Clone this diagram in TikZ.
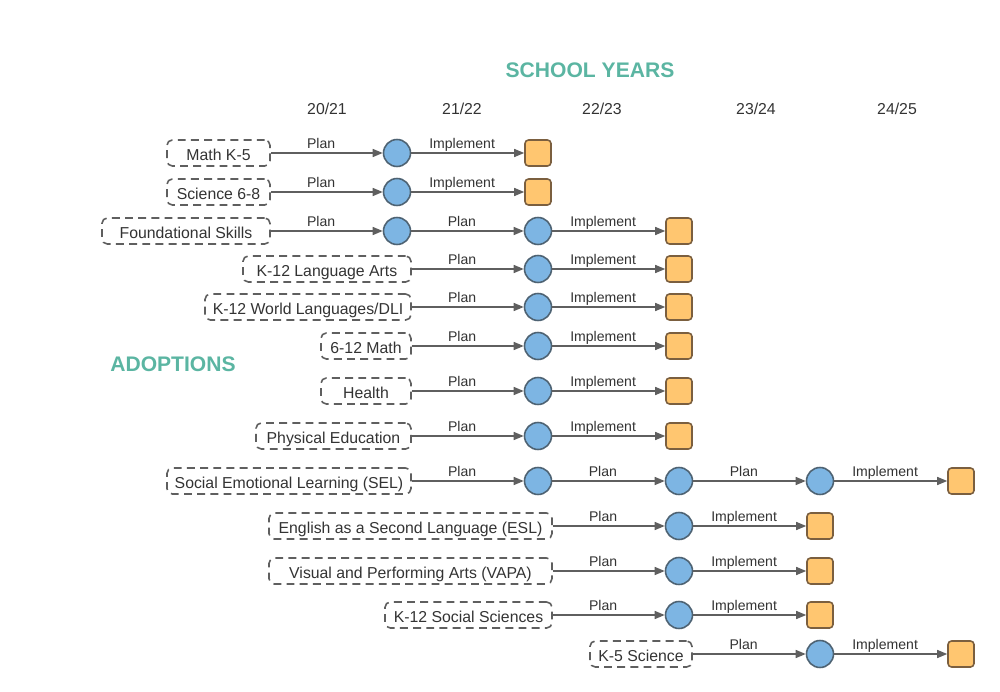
\documentclass[tikz,border=0pt]{standalone}
\usepackage{fontspec}
\setmainfont{Liberation Sans}
\usetikzlibrary{arrows.meta}

\definecolor{headteal}{HTML}{5BB5A2}
\definecolor{linegray}{HTML}{5F5F5F}
\definecolor{txtgray}{HTML}{333333}
\definecolor{planfill}{HTML}{7DB5E3}
\definecolor{planline}{HTML}{4E6373}
\definecolor{donefill}{HTML}{FFC670}
\definecolor{doneline}{HTML}{7B5F3F}

\begin{document}
\begin{tikzpicture}[x=0.02cm, y=-0.02cm,
    adopt/.style={draw=linegray, dash pattern=on 4.5pt off 3pt, line width=0.9pt,
        rounded corners=3pt, minimum height=0.52cm, inner sep=0pt, text=txtgray,
        text height=8.7pt, text depth=0pt, font=\fontsize{9}{10}\selectfont},
    plan/.style={circle, draw=planline, fill=planfill, line width=0.9pt,
        minimum size=0.54cm, inner sep=0pt},
    done/.style={rectangle, draw=doneline, fill=donefill, line width=0.9pt,
        rounded corners=2pt, minimum size=0.52cm, inner sep=0pt},
    flow/.style={draw=linegray, line width=0.8pt, -{Triangle[length=2mm, width=1.6mm]}},
    lbl/.style={above, pos=0.45, inner sep=0pt, text depth=2pt, text=txtgray,
        font=\fontsize{8}{9}\selectfont},
    year/.style={text=txtgray, font=\fontsize{9}{10}\selectfont},
    head/.style={text=headteal, font=\bfseries\fontsize{12}{14}\selectfont}]
    \useasboundingbox (0,0) rectangle (1000,692);

    \node[head] (sy) at (590,70) {SCHOOL YEARS};
    \node[head] (ad) at (173,364) {ADOPTIONS};

    \node[year] (y1) at (327,109) {20/21};
    \node[year] (y2) at (462,109) {21/22};
    \node[year] (y3) at (602,109) {22/23};
    \node[year] (y4) at (756,109) {23/24};
    \node[year] (y5) at (897,109) {24/25};

    % math k-5
    \node[adopt, minimum width=2.06cm] (mk5) at (218.5,153) {Math K-5};
    \node[plan] (mk5a) at (397,153) {};
    \node[done] (mk5b) at (538,153) {};
    \draw[flow] (mk5) -- node[lbl] {Plan} (mk5a);
    \draw[flow] (mk5a) -- node[lbl] {Implement} (mk5b);

    % science 6-8
    \node[adopt, minimum width=2.06cm] (s68) at (218.5,192) {Science 6-8};
    \node[plan] (s68a) at (397,192) {};
    \node[done] (s68b) at (538,192) {};
    \draw[flow] (s68) -- node[lbl] {Plan} (s68a);
    \draw[flow] (s68a) -- node[lbl] {Implement} (s68b);

    % foundational skills
    \node[adopt, minimum width=3.36cm] (fs) at (186,231) {Foundational Skills};
    \node[plan] (fsa) at (397,231) {};
    \node[plan] (fsb) at (538,231) {};
    \node[done] (fsc) at (679,231) {};
    \draw[flow] (fs) -- node[lbl] {Plan} (fsa);
    \draw[flow] (fsa) -- node[lbl] {Plan} (fsb);
    \draw[flow] (fsb) -- node[lbl] {Implement} (fsc);

    % language arts
    \node[adopt, minimum width=3.36cm] (la) at (327,269) {K-12 Language Arts};
    \node[plan] (laa) at (538,269) {};
    \node[done] (lab) at (679,269) {};
    \draw[flow] (la) -- node[lbl] {Plan} (laa);
    \draw[flow] (laa) -- node[lbl] {Implement} (lab);

    % world languages
    \node[adopt, minimum width=4.12cm] (wl) at (308,307) {K-12 World Languages/DLI};
    \node[plan] (wla) at (538,307) {};
    \node[done] (wlb) at (679,307) {};
    \draw[flow] (wl) -- node[lbl] {Plan} (wla);
    \draw[flow] (wla) -- node[lbl] {Implement} (wlb);

    % 6-12 math
    \node[adopt, minimum width=1.8cm] (m612) at (366,346) {6-12 Math};
    \node[plan] (m612a) at (538,346) {};
    \node[done] (m612b) at (679,346) {};
    \draw[flow] (m612) -- node[lbl] {Plan} (m612a);
    \draw[flow] (m612a) -- node[lbl] {Implement} (m612b);

    % health
    \node[adopt, minimum width=1.8cm] (hl) at (366,391) {Health};
    \node[plan] (hla) at (538,391) {};
    \node[done] (hlb) at (679,391) {};
    \draw[flow] (hl) -- node[lbl] {Plan} (hla);
    \draw[flow] (hla) -- node[lbl] {Implement} (hlb);

    % physical education
    \node[adopt, minimum width=3.1cm] (pe) at (333.5,436) {Physical Education};
    \node[plan] (pea) at (538,436) {};
    \node[done] (peb) at (679,436) {};
    \draw[flow] (pe) -- node[lbl] {Plan} (pea);
    \draw[flow] (pea) -- node[lbl] {Implement} (peb);

    % sel
    \node[adopt, minimum width=4.88cm] (sel) at (289,481) {Social Emotional Learning (SEL)};
    \node[plan] (sela) at (538,481) {};
    \node[plan] (selb) at (679,481) {};
    \node[plan] (selc) at (820,481) {};
    \node[done] (seld) at (961,481) {};
    \draw[flow] (sel) -- node[lbl] {Plan} (sela);
    \draw[flow] (sela) -- node[lbl] {Plan} (selb);
    \draw[flow] (selb) -- node[lbl] {Plan} (selc);
    \draw[flow] (selc) -- node[lbl] {Implement} (seld);

    % esl
    \node[adopt, minimum width=5.66cm] (esl) at (410.5,526) {English as a Second Language (ESL)};
    \node[plan] (esla) at (679,526) {};
    \node[done] (eslb) at (820,526) {};
    \draw[flow] (esl) -- node[lbl] {Plan} (esla);
    \draw[flow] (esla) -- node[lbl] {Implement} (eslb);

    % vapa
    \node[adopt, minimum width=5.66cm] (vapa) at (410.5,571) {Visual and Performing Arts (VAPA)};
    \node[plan] (vapaa) at (679,571) {};
    \node[done] (vapab) at (820,571) {};
    \draw[flow] (vapa) -- node[lbl] {Plan} (vapaa);
    \draw[flow] (vapaa) -- node[lbl] {Implement} (vapab);

    % social sciences
    \node[adopt, minimum width=3.34cm] (ss) at (468.5,615) {K-12 Social Sciences};
    \node[plan] (ssa) at (679,615) {};
    \node[done] (ssb) at (820,615) {};
    \draw[flow] (ss) -- node[lbl] {Plan} (ssa);
    \draw[flow] (ssa) -- node[lbl] {Implement} (ssb);

    % k-5 science
    \node[adopt, minimum width=2.04cm] (sk5) at (641,654) {K-5 Science};
    \node[plan] (sk5a) at (820,654) {};
    \node[done] (sk5b) at (961,654) {};
    \draw[flow] (sk5) -- node[lbl] {Plan} (sk5a);
    \draw[flow] (sk5a) -- node[lbl] {Implement} (sk5b);
\end{tikzpicture}
\end{document}
